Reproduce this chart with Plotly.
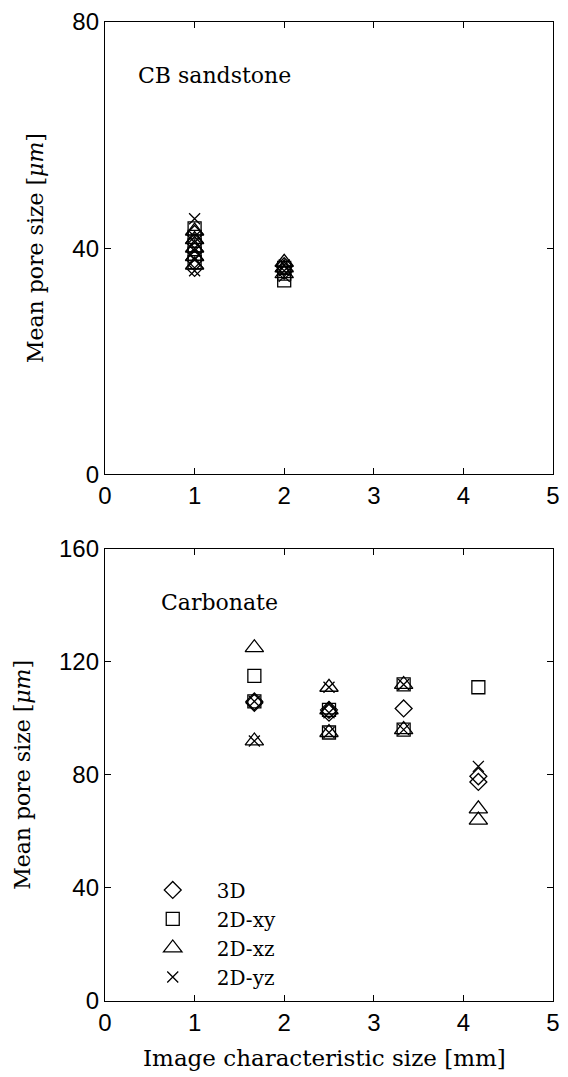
import plotly.graph_objects as go
from plotly.subplots import make_subplots

# Image characteristic size [mm] for each sample set
cb_size_small = 1.0
cb_size_large = 2.0
carb_sizes = [1.667, 2.5, 3.333, 4.167]

# CB sandstone: mean pore size [um] of the sub-volumes at 1 mm and 2 mm
cb_3d_1 = [36.5, 38.0, 39.5, 41.0, 42.5]
cb_xy_1 = [37.5, 39.0, 40.5, 42.0, 43.5]
cb_xz_1 = [37.0, 38.5, 40.0, 41.5, 43.0]
cb_yz_1 = [36.0, 38.0, 40.0, 42.0, 45.2]
cb_3d_2 = [36.0, 36.8]
cb_xy_2 = [34.3, 35.5, 36.5]
cb_xz_2 = [35.5, 36.5, 37.5]
cb_yz_2 = [35.0, 36.0, 37.0]

# Carbonate: mean pore size [um] per image size
carb_3d = [[106.0, 105.5], [103.0, 102.0], [103.5], [79.5, 77.5]]
carb_xy = [[115.0, 106.0], [103.0, 95.0], [112.0, 96.0], [111.0]]
carb_xz = [[125.0, 92.0], [111.0, 103.0, 95.0], [112.0, 96.0], [68.0, 64.0]]
carb_yz = [[106.0, 92.0], [111.0, 102.0, 95.0], [112.0, 96.0], [83.0]]

series_names = ["3D", "2D-xy", "2D-xz", "2D-yz"]

symbols = ["diamond-open", "square-open", "triangle-up-open", "x-thin-open"]
sizes = [13, 13, 16, 11]

SERIF = "DejaVu Serif"
SANS = "Liberation Sans"


def flatten(xs, groups):
    xx, yy = [], []
    for x, g in zip(xs, groups):
        for v in g:
            xx.append(x)
            yy.append(v)
    return xx, yy


fig = make_subplots(rows=2, cols=1, vertical_spacing=75 / 985)

cb_series = [
    (cb_3d_1, cb_3d_2),
    (cb_xy_1, cb_xy_2),
    (cb_xz_1, cb_xz_2),
    (cb_yz_1, cb_yz_2),
]
for name, sym, sz, (a, b) in zip(series_names, symbols, sizes, cb_series):
    xx, yy = flatten([cb_size_small, cb_size_large], [a, b])
    fig.add_trace(
        go.Scatter(
            x=xx, y=yy, mode="markers", name=name,
            showlegend=False,
            marker=dict(symbol=sym, size=sz, color="black",
                        line=dict(color="black", width=1.3)),
        ),
        row=1, col=1,
    )

for name, sym, sz, groups in zip(series_names, symbols, sizes,
                                 [carb_3d, carb_xy, carb_xz, carb_yz]):
    xx, yy = flatten(carb_sizes, groups)
    fig.add_trace(
        go.Scatter(
            x=xx, y=yy, mode="markers", name=name,
            marker=dict(symbol=sym, size=sz, color="black",
                        line=dict(color="black", width=1.3)),
        ),
        row=2, col=1,
    )

axis_style = dict(
    showline=True, mirror="ticks", linecolor="black", linewidth=1.3,
    ticks="inside", ticklen=6, tickwidth=1.3, tickcolor="black",
    showgrid=False, zeroline=False,
    tickfont=dict(family=SANS, size=24, color="black"),
)

fig.update_xaxes(range=[0, 5], dtick=1, tick0=0, **axis_style)
fig.update_yaxes(**axis_style)
fig.update_yaxes(range=[0, 80], dtick=40, tick0=0, row=1, col=1)
fig.update_yaxes(range=[0, 160], dtick=40, tick0=0, row=2, col=1)

ytitle = dict(text="Mean pore size [<i>μm</i>]",
              font=dict(family=SERIF, size=22, color="black"), standoff=22)
fig.update_yaxes(title=ytitle, row=1, col=1)
fig.update_yaxes(title=ytitle, row=2, col=1)

# x-axis caption of the lower panel
fig.add_annotation(text="Image characteristic size [mm]",
                   x=0.49, y=-0.058, xref="paper", yref="paper",
                   xanchor="center", yanchor="middle", showarrow=False,
                   font=dict(family=SERIF, size=23, color="black"))

fig.add_annotation(text="CB sandstone", x=0.35, y=70.5, xref="x", yref="y",
                   xanchor="left", yanchor="middle", showarrow=False,
                   font=dict(family=SERIF, size=22, color="black"))
fig.add_annotation(text="Carbonate", x=0.6, y=141, xref="x2", yref="y2",
                   xanchor="left", yanchor="middle", showarrow=False,
                   font=dict(family=SERIF, size=22, color="black"))

fig.update_layout(
    width=568, height=1077,
    margin=dict(l=105, r=8, t=16, b=76),
    paper_bgcolor="white", plot_bgcolor="white",
    showlegend=True,
    legend=dict(
        x=0.053, y=0.069, xanchor="left", yanchor="middle",
        bgcolor="rgba(0,0,0,0)", borderwidth=0,
        font=dict(family=SERIF, size=20, color="black"),
        itemwidth=78, tracegroupgap=0,
    ),
)

fig.write_html("out.html")
